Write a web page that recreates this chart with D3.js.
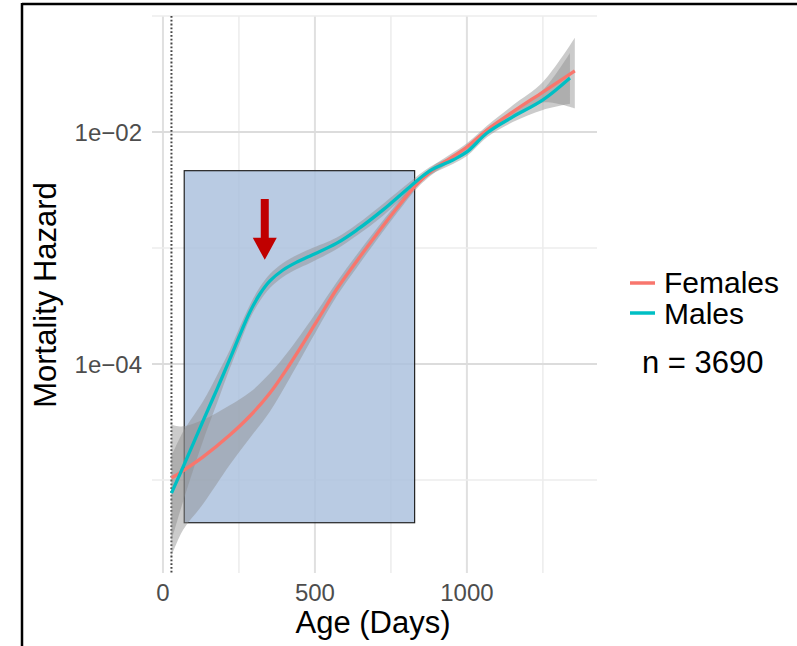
<!DOCTYPE html>
<html>
<head>
<meta charset="utf-8">
<script src="https://cdn.jsdelivr.net/npm/d3@7"></script>
<style>
  body { margin: 0; background: #fff; }
  text { font-family: "Liberation Sans", Arial, sans-serif; }
</style>
</head>
<body>
<svg id="chart" width="797" height="646"></svg>
<script>
// smoothed hazard curves (age in days, hazard)
var femaleDays   = [28, 66, 132, 220, 286, 352, 418, 507, 572, 638, 704, 770, 836, 888, 1000, 1066, 1151, 1250, 1355];
var femaleHazard = [1.04e-5, 1.2e-5, 1.58e-5, 2.44e-5, 3.56e-5, 5.62e-5, 1.0e-4, 2.35e-4, 4.43e-4, 7.73e-4, 1.32e-3, 2.21e-3, 3.56e-3, 4.7e-3, 7.43e-3, 1.04e-2, 1.49e-2, 2.21e-2, 3.36e-2];
var femaleLower  = [2.2e-6, 3.7e-6, 6.2e-6, 1.35e-5, 2.3e-5, 3.9e-5, 7.6e-5, 1.97e-4, 3.85e-4, 6.8e-4, 1.18e-3, 2.0e-3, 3.28e-3, 4.35e-3, 6.9e-3, 9.6e-3, 1.32e-2, 1.8e-2, 1.6e-2];
var femaleUpper  = [3.0e-5, 2.9e-5, 3.3e-5, 4.4e-5, 5.7e-5, 8.3e-5, 1.34e-4, 2.85e-4, 5.1e-4, 8.8e-4, 1.48e-3, 2.43e-3, 3.86e-3, 5.1e-3, 8.0e-3, 1.13e-2, 1.7e-2, 2.7e-2, 6.5e-2];

var maleDays   = [28, 66, 132, 178, 220, 253, 286, 319, 352, 395, 441, 484, 572, 638, 724, 812, 878, 954, 1000, 1066, 1151, 1250, 1339];
var maleHazard = [7.7e-6, 1.29e-5, 3.23e-5, 6.08e-5, 1.1e-4, 1.78e-4, 2.81e-4, 4.01e-4, 5.2e-4, 6.46e-4, 7.57e-4, 8.53e-4, 1.1e-3, 1.43e-3, 2.13e-3, 3.36e-3, 4.62e-3, 5.74e-3, 6.73e-3, 9.8e-3, 1.35e-2, 1.89e-2, 2.92e-2];
var maleLower  = [3.0e-6, 6.5e-6, 2.18e-5, 4.61e-5, 9.15e-5, 1.51e-4, 2.45e-4, 3.49e-4, 4.53e-4, 5.63e-4, 6.59e-4, 7.43e-4, 9.8e-4, 1.28e-3, 1.9e-3, 3.05e-3, 4.25e-3, 5.3e-3, 6.2e-3, 9.0e-3, 1.22e-2, 1.55e-2, 1.75e-2];
var maleUpper  = [1.6e-5, 2.6e-5, 4.78e-5, 8.01e-5, 1.32e-4, 2.09e-4, 3.23e-4, 4.6e-4, 5.97e-4, 7.42e-4, 8.69e-4, 9.79e-4, 1.23e-3, 1.6e-3, 2.4e-3, 3.7e-3, 5.0e-3, 6.2e-3, 7.3e-3, 1.07e-2, 1.5e-2, 2.3e-2, 4.8e-2];

var xTicks = [0, 500, 1000];
var xMinor = [250, 750, 1250];
var yTicks = [1e-2, 1e-4];
var yMinor = [1e-1, 1e-3, 1e-5];

var seriesNames  = ["Females", "Males"];
var seriesColors = ["#F8766D", "#00BFC4"];
var sampleText = "n = 3690";

// highlighted window and arrow (data coordinates)
var boxDays = [70, 828];
var boxHazard = [4.28e-6, 4.64e-3];
var arrowDay = 335;
var arrowHazard = [2.64e-3, 7.9e-4];
var cutoffDay = 28;

var svg = d3.select("#chart");

var x = d3.scaleLinear().domain([-36, 1428]).range([152, 597]);
var y = d3.scaleLog().domain([Math.pow(10, -5.802), 0.1]).range([573, 16]);

// outer frame (only top and left visible)
svg.append("line").attr("x1", 22).attr("x2", 797).attr("y1", 4).attr("y2", 4)
    .attr("stroke", "#000").attr("stroke-width", 2.5);
svg.append("line").attr("x1", 22).attr("x2", 22).attr("y1", 3).attr("y2", 646)
    .attr("stroke", "#000").attr("stroke-width", 2.5);

// grid
var grid = svg.append("g");
grid.selectAll(".xmin").data(xMinor).enter().append("line")
    .attr("x1", d => x(d)).attr("x2", d => x(d)).attr("y1", 16).attr("y2", 573)
    .attr("stroke", "#ececec").attr("stroke-width", 1.5);
grid.selectAll(".xmaj").data(xTicks).enter().append("line")
    .attr("x1", d => x(d)).attr("x2", d => x(d)).attr("y1", 16).attr("y2", 573)
    .attr("stroke", "#e0e0e0").attr("stroke-width", 2);
grid.selectAll(".ymin").data(yMinor).enter().append("line")
    .attr("x1", 152).attr("x2", 597).attr("y1", d => y(d)).attr("y2", d => y(d))
    .attr("stroke", "#ececec").attr("stroke-width", 1.5);
grid.selectAll(".ymaj").data(yTicks).enter().append("line")
    .attr("x1", 152).attr("x2", 597).attr("y1", d => y(d)).attr("y2", d => y(d))
    .attr("stroke", "#dcdcdc").attr("stroke-width", 2);

// cutoff line
svg.append("line")
    .attr("x1", x(cutoffDay)).attr("x2", x(cutoffDay)).attr("y1", 16).attr("y2", 573)
    .attr("stroke", "#444").attr("stroke-width", 2).attr("stroke-dasharray", "1.8,2");

// highlight box
svg.append("rect")
    .attr("x", x(boxDays[0])).attr("y", y(boxHazard[1]))
    .attr("width", x(boxDays[1]) - x(boxDays[0]))
    .attr("height", y(boxHazard[0]) - y(boxHazard[1]))
    .attr("fill", "#a9c0dd").attr("fill-opacity", 0.82)
    .attr("stroke", "#222").attr("stroke-width", 1.2);

// tick labels
svg.selectAll(".xl").data(xTicks).enter().append("text")
    .attr("x", d => x(d)).attr("y", 601)
    .attr("text-anchor", "middle").attr("font-size", 24).attr("fill", "#4d4d4d")
    .text(d => d);
svg.selectAll(".yl").data(yTicks).enter().append("text")
    .attr("x", 142).attr("y", d => y(d) + 9)
    .attr("text-anchor", "end").attr("font-size", 24).attr("fill", "#4d4d4d")
    .text(d => "1e\u2212" + String(-Math.round(Math.log10(d))).padStart(2, "0"));

// axis titles
svg.append("text").attr("x", 373).attr("y", 633).attr("text-anchor", "middle")
    .attr("font-size", 31).attr("fill", "#000").text("Age (Days)");
svg.append("text").attr("transform", "translate(56,295) rotate(-90)")
    .attr("text-anchor", "middle").attr("font-size", 31).attr("fill", "#000")
    .text("Mortality Hazard");

// bands and curves
var series = [
    { days: femaleDays, mid: femaleHazard, lo: femaleLower, hi: femaleUpper },
    { days: maleDays, mid: maleHazard, lo: maleLower, hi: maleUpper }
];

var area = d3.area()
    .x(d => x(d[0])).y0(d => y(d[1])).y1(d => y(d[2]))
    .curve(d3.curveCatmullRom.alpha(0.5));
var line = d3.line()
    .x(d => x(d[0])).y(d => y(d[1]))
    .curve(d3.curveCatmullRom.alpha(0.5));

series.forEach(function(s) {
    var pts = s.days.map((d, i) => [d, s.lo[i], s.hi[i]]);
    svg.append("path").attr("d", area(pts))
        .attr("fill", "#8c8c8c").attr("fill-opacity", 0.45);
});
series.forEach(function(s, k) {
    var pts = s.days.map((d, i) => [d, s.mid[i]]);
    svg.append("path").attr("d", line(pts))
        .attr("fill", "none").attr("stroke", seriesColors[k]).attr("stroke-width", 3.3);
});

// arrow
var ax = x(arrowDay), ay0 = y(arrowHazard[0]), ay1 = y(arrowHazard[1]);
svg.append("path")
    .attr("d", "M" + (ax - 4) + "," + ay0 + "H" + (ax + 4) + "V" + (ay1 - 22) +
        "H" + (ax + 12) + "L" + ax + "," + ay1 + "L" + (ax - 12) + "," + (ay1 - 22) +
        "H" + (ax - 4) + "Z")
    .attr("fill", "#c00000");

// legend
var legend = svg.append("g");
seriesNames.forEach(function(name, i) {
    var ly = 283 + i * 30;
    legend.append("line").attr("x1", 630).attr("x2", 655).attr("y1", ly).attr("y2", ly)
        .attr("stroke", seriesColors[i]).attr("stroke-width", 3.5);
    legend.append("text").attr("x", 664).attr("y", 293 + i * 31)
        .attr("font-size", 30).attr("fill", "#000").text(name);
});
svg.append("text").attr("x", 642).attr("y", 373)
    .attr("font-size", 31).attr("fill", "#000").text(sampleText);
</script>
</body>
</html>
